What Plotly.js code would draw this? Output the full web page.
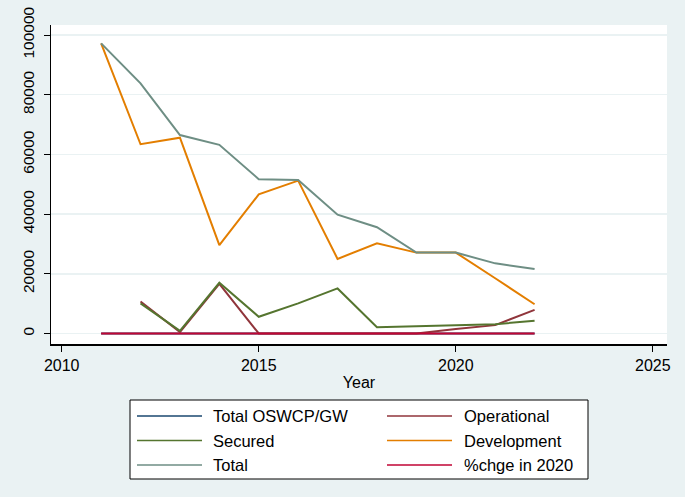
<!DOCTYPE html>
<html>
<head>
<meta charset="utf-8">
<script src="https://cdn.plot.ly/plotly-3.0.1.min.js"></script>
<style>html,body{margin:0;padding:0;background:#EAF2F3;}#chart{width:685px;height:497px;}</style>
</head>
<body>
<div id="chart"></div>
<script>
// ---- data ----
const years = [2011, 2012, 2013, 2014, 2015, 2016, 2017, 2018, 2019, 2020, 2021, 2022];
const seriesNames = ["Total OSWCP/GW", "Operational", "Secured", "Development", "Total", "%chge in 2020"];
const totalOswcpGw = [0, 0, 0, 0, 0, 0, 0, 0, 0, 0, 0, 0];
const operational  = [null, 10700, 500, 16600, 0, 0, 0, 0, 0, 1500, 2800, 7900];
const secured      = [null, 10100, 900, 17000, 5600, 10100, 15100, 2100, 2500, 2700, 3100, 4300];
const development  = [97200, 63400, 65600, 29600, 46600, 51200, 25000, 30200, 27100, 27100, 18500, 9800];
const total        = [97200, 83800, 66500, 63200, 51700, 51400, 39800, 35600, 27100, 27100, 23500, 21600];
const pctChge2020  = [0, 0, 0, 0, 0, 0, 0, 0, 0, 0, 0, 0];
const yTicks = [0, 20000, 40000, 60000, 80000, 100000];
const xTicks = [2010, 2015, 2020, 2025];

const colors = ["#1a476f", "#90353b", "#55752f", "#e37e00", "#6e8e84", "#c10534"];
const seriesValues = [totalOswcpGw, operational, secured, development, total, pctChge2020];

const traces = seriesValues.map((vals, i) => ({
  type: "scatter", mode: "lines", x: years, y: vals, name: seriesNames[i],
  line: {color: colors[i], width: 2}, connectgaps: false, showlegend: false, hoverinfo: "skip"
}));

// plot area in pixels: x 51..667, y 25..344
const L = 51, T = 25, W = 616, H = 319;
const px = v => (v - L) / W;
const py = v => (T + H - v) / H;

// manual legend (Stata style, 2 columns x 3 rows)
const shapes = [{
  type: "rect", xref: "paper", yref: "paper",
  x0: px(130), x1: px(588), y0: py(400), y1: py(479),
  fillcolor: "#ffffff", line: {color: "#000000", width: 1}, layer: "above"
}];
const annotations = [];
const colLineX = [[137, 202], [387, 452]];
const colTextX = [211, 462];
const rowY = [416, 440.5, 465];
seriesNames.forEach((nm, i) => {
  const c = i % 2, r = Math.floor(i / 2);
  shapes.push({type: "line", xref: "paper", yref: "paper",
    x0: px(colLineX[c][0]), x1: px(colLineX[c][1]), y0: py(rowY[r]), y1: py(rowY[r]),
    line: {color: colors[i], width: 1.5}, layer: "above"});
  annotations.push({xref: "paper", yref: "paper", x: px(colTextX[c]), y: py(rowY[r]),
    xanchor: "left", yanchor: "middle", text: nm, showarrow: false,
    font: {family: "Liberation Sans, Arial, sans-serif", size: 16.5, color: "#000000"}});
});

const layout = {
  width: 685, height: 497,
  paper_bgcolor: "#EAF2F3", plot_bgcolor: "#ffffff",
  margin: {l: L, r: 685 - L - W, t: T, b: 497 - T - H, pad: 0},
  showlegend: false,
  font: {family: "Liberation Sans, Arial, sans-serif", color: "#000000"},
  xaxis: {
    range: [2009.728, 2025.36], tickvals: xTicks, ticktext: xTicks.map(String),
    showgrid: false, zeroline: false, showline: true, linecolor: "#000000", linewidth: 1.5,
    ticks: "outside", ticklen: 6, tickwidth: 1, tickcolor: "#000000",
    tickfont: {family: "Liberation Sans Narrow, Arial Narrow, sans-serif", size: 16},
    title: {text: "Year", font: {family: "Liberation Sans, Arial, sans-serif", size: 16}, standoff: 4}
  },
  yaxis: {
    range: [-3520, 103350], tickvals: yTicks, ticktext: yTicks.map(String),
    showgrid: true, gridcolor: "#EAF2F3", gridwidth: 1.5, zeroline: false,
    showline: true, linecolor: "#000000", linewidth: 1.5,
    ticks: "outside", ticklen: 6, tickwidth: 1, tickcolor: "#000000", tickangle: -90,
    ticklabelstandoff: 3,
    tickfont: {family: "Liberation Sans Narrow, Arial Narrow, sans-serif", size: 15.5}
  },
  shapes: shapes, annotations: annotations
};

Plotly.newPlot("chart", traces, layout, {displayModeBar: false, staticPlot: true});
</script>
</body>
</html>
